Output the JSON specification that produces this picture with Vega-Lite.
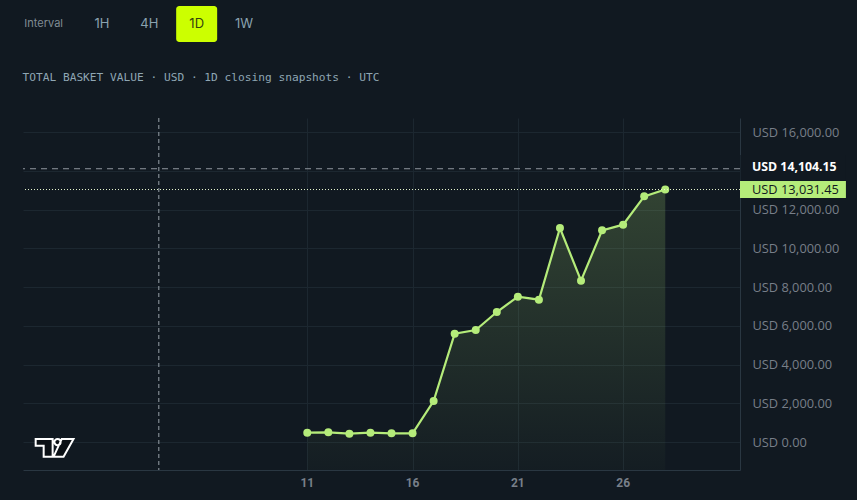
{
  "$schema": "https://vega.github.io/schema/vega-lite/v6.json",
  "description": "Total basket value in USD, 1D closing snapshots.",
  "background": "#111921",
  "padding": {"left": 22, "top": 0, "right": 11, "bottom": 12},
  "spacing": 0,
  "config": {"view": {"stroke": null}, "font": "Roboto"},
  "datasets": {
    "closes": [
      {"day": 11, "value": 480},
      {"day": 12, "value": 500},
      {"day": 13, "value": 428},
      {"day": 14, "value": 480},
      {"day": 15, "value": 449},
      {"day": 16, "value": 449},
      {"day": 17, "value": 2116},
      {"day": 18, "value": 5590},
      {"day": 19, "value": 5780},
      {"day": 20, "value": 6710},
      {"day": 21, "value": 7500},
      {"day": 22, "value": 7345},
      {"day": 23, "value": 11045},
      {"day": 24, "value": 8327},
      {"day": 25, "value": 10925},
      {"day": 26, "value": 11217},
      {"day": 27, "value": 12680},
      {"day": 28, "value": 13031.45}
    ],
    "crosshair": [{"day": 3.95, "value": 14104.15, "label": "USD 14,104.15"}],
    "last": [{"day": 28, "value": 13031.45, "label": "USD 13,031.45"}],
    "logo": [{"day": -1, "value": -284}]
  },
  "vconcat": [
    {
      "width": 717,
      "height": 72,
      "data": {"values": [
        {"label": "Interval", "active": false},
        {"label": "1H", "active": false},
        {"label": "4H", "active": false},
        {"label": "1D", "active": true},
        {"label": "1W", "active": false}
      ]},
      "encoding": {
        "x": {
          "field": "label",
          "type": "ordinal",
          "sort": null,
          "axis": null,
          "scale": {"type": "point", "domain": ["Interval", "1H", "4H", "1D", "1W"], "range": [31.67, 221], "padding": 0}
        },
        "y": {
          "datum": 0,
          "type": "quantitative",
          "axis": null,
          "scale": {"domain": [-1, 1], "range": [48, 0]}
        }
      },
      "layer": [
        {
          "transform": [{"filter": "datum.active"}],
          "mark": {"type": "rect", "width": 41, "height": 36, "cornerRadius": 3, "color": "#ccff00"}
        },
        {
          "transform": [{"filter": "datum.label != 'Interval'"}],
          "mark": {"type": "text", "font": "Inter", "fontSize": 13, "align": "center"},
          "encoding": {
            "text": {"field": "label"},
            "color": {"condition": {"test": "datum.active", "value": "#34420f"}, "value": "#8ba3b0"}
          }
        },
        {
          "transform": [{"filter": "datum.label == 'Interval'"}],
          "mark": {"type": "text", "font": "Inter", "fontSize": 11, "align": "center", "dx": -11, "color": "#808c94"},
          "encoding": {"text": {"field": "label"}}
        }
      ]
    },
    {
      "width": 717,
      "height": 352,
      "title": {
        "text": "TOTAL BASKET VALUE · USD · 1D closing snapshots · UTC",
        "anchor": "start",
        "font": "DejaVu Sans Mono",
        "fontSize": 11.2,
        "fontWeight": "normal",
        "color": "#8fa6b3",
        "offset": 34
      },
      "encoding": {
        "x": {
          "field": "day",
          "type": "quantitative",
          "title": null,
          "scale": {"domain": [-2.5, 31.55], "nice": false, "zero": false},
          "axis": {
            "values": [11, 16, 21, 26],
            "format": "d",
            "grid": true,
            "gridColor": "#1c2730",
            "domainColor": "#2a3742",
            "ticks": false,
            "labelColor": "#787f89",
            "labelFontSize": 12,
            "labelFontWeight": "bold",
            "labelPadding": 7,
            "labelOffset": -0.5
          }
        },
        "y": {
          "field": "value",
          "type": "quantitative",
          "title": null,
          "scale": {"domain": [-1445, 16723], "nice": false, "zero": false},
          "axis": {
            "orient": "right",
            "values": [0, 2000, 4000, 6000, 8000, 10000, 12000, 14000, 16000],
            "labelExpr": "datum.value == 14000 ? '' : 'USD ' + format(datum.value, ',.2f')",
            "grid": true,
            "gridColor": "#1c2730",
            "domainColor": "#2a3742",
            "ticks": false,
            "labelColor": "#787f89",
            "labelFont": "Open Sans",
            "labelFontSize": 12.8,
            "labelPadding": 12
          }
        }
      },
      "layer": [
        {
          "data": {"name": "closes"},
          "mark": {
            "type": "area",
            "color": {
              "gradient": "linear",
              "x1": 0, "y1": 0, "x2": 0, "y2": 1,
              "stops": [
                {"offset": 0, "color": "rgba(181,236,122,0.2)"},
                {"offset": 1, "color": "rgba(181,236,122,0.02)"}
              ]
            }
          },
          "encoding": {"y2": {"datum": -1445}}
        },
        {
          "data": {"name": "closes"},
          "mark": {"type": "line", "color": "#b5ec7a", "strokeWidth": 2.2}
        },
        {
          "data": {"name": "closes"},
          "mark": {"type": "point", "filled": true, "opacity": 1, "color": "#b5ec7a", "size": 64}
        },
        {
          "data": {"name": "crosshair"},
          "mark": {"type": "rule", "color": "#9aa2aa", "strokeWidth": 1, "strokeDash": [4, 3]},
          "encoding": {"y": null}
        },
        {
          "data": {"name": "crosshair"},
          "mark": {"type": "rule", "color": "#8f979f", "strokeWidth": 1, "strokeDash": [6, 5]},
          "encoding": {"x": null}
        },
        {
          "data": {"name": "last"},
          "mark": {"type": "rule", "color": "#e8f7cf", "strokeWidth": 1, "strokeDash": [1, 2]},
          "encoding": {"x": null}
        },
        {
          "data": {"name": "crosshair"},
          "mark": {"type": "rect", "color": "#111921"},
          "encoding": {
            "x": {"datum": 31.57},
            "x2": {"datum": 36.58},
            "y": {"datum": 14813},
            "y2": {"datum": 13471}
          }
        },
        {
          "data": {"name": "last"},
          "mark": {"type": "rect", "color": "#b5ec7a"},
          "encoding": {
            "x": {"datum": 31.55},
            "x2": {"datum": 36.58},
            "y": {"datum": 13471},
            "y2": {"datum": 12594}
          }
        },
        {
          "data": {"name": "last"},
          "mark": {"type": "text", "align": "left", "dx": 12, "font": "Open Sans", "fontSize": 12.8, "color": "#111921"},
          "encoding": {
            "x": {"datum": 31.55},
            "text": {"field": "label"}
          }
        },
        {
          "data": {"name": "crosshair"},
          "mark": {"type": "text", "align": "left", "dx": 12, "dy": -1.5, "font": "Open Sans", "fontSize": 12.3, "fontWeight": "bold", "color": "#ffffff"},
          "encoding": {
            "x": {"datum": 31.55},
            "text": {"field": "label"}
          }
        },
        {
          "data": {"name": "logo"},
          "mark": {
            "type": "point",
            "filled": true,
            "opacity": 1,
            "color": "#0b1015",
            "stroke": "#ffffff",
            "strokeWidth": 2,
            "size": 1521,
            "shape": "M-0.97 -0.44 L-0.1 -0.44 L-0.1 0.47 L-0.56 0.47 L-0.56 -0.09 L-0.97 -0.09 Z M-0.01 -0.28 A0.16 0.16 0 1 0 0.31 -0.28 A0.16 0.16 0 1 0 -0.01 -0.28 Z M0.37 -0.44 L0.97 -0.44 L0.46 0.47 L-0.05 0.47 Z"
          }
        }
      ]
    }
  ]
}
